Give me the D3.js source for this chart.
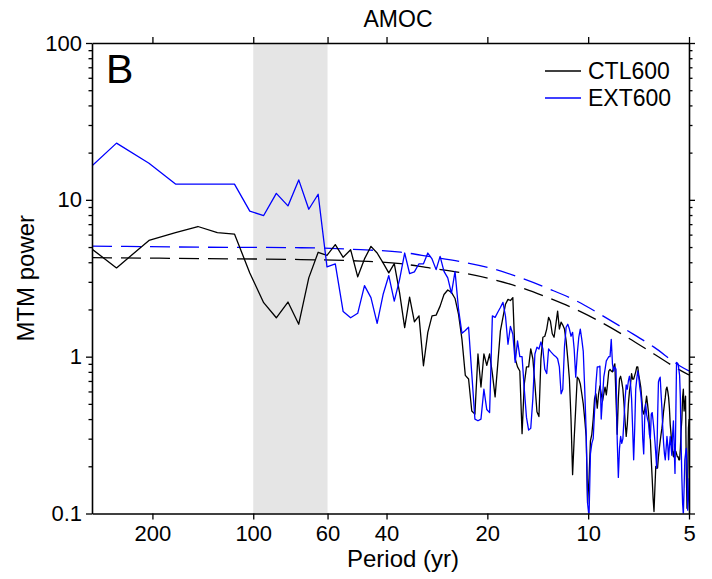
<!DOCTYPE html>
<html>
<head>
<meta charset="utf-8">
<script src="https://cdn.jsdelivr.net/npm/d3@7"></script>
<style>
    body { margin: 0; background: #fff; }
    svg text { font-family: "Liberation Sans", Arial, Helvetica, sans-serif; fill: #000; }
</style>
</head>
<body>
<div id="spectrum-area"></div>
<script>

// spectra are on the frequency grid k/1024 (cycles per yr), first bin k = 3
let freqStep = 1 / 1024;
let firstBin = 3;

// MTM power, CTL600 (black)
let ctl600 = [
    5.9, 3.68, 5.51, 6.17, 6.76, 6.17, 6.05, 3.42, 2.21, 1.77,
    2.23, 1.61, 3.18, 4.63, 4.43, 5.18, 4.30, 4.81, 3.23, 4.20,
    5.05, 4.58, 3.96, 3.42, 3.92, 2.56, 1.53, 2.40, 1.67, 1.82,
    0.875, 1.43, 1.82, 1.84, 2.10, 2.49, 2.66, 2.57, 2.35, 1.86,
    1.29, 0.76, 0.72, 0.45, 0.43, 1.04, 0.64, 1.04, 0.88, 1.04,
    0.78, 0.554, 0.90, 1.46, 1.78, 2.16, 2.32, 2.28, 2.38, 0.97,
    0.86, 0.81, 0.323, 0.67, 0.86, 0.86, 1.12, 0.97, 0.67, 0.445,
    0.415, 0.97, 1.33, 1.35, 1.50, 1.78, 1.68, 1.40, 1.33, 1.61,
    1.95, 1.50, 1.66, 1.59, 1.50, 1.26, 0.97, 0.72, 0.40, 0.177,
    0.30, 0.47, 0.74, 0.72, 0.67, 0.58, 0.50, 0.40, 0.31, 0.116,
    0.168, 0.29, 0.32, 0.40, 0.54, 0.58, 0.47, 0.58, 0.65, 0.58,
    0.52, 0.58, 0.64, 0.57, 0.67, 0.81, 0.83, 0.81, 0.80, 0.86,
    0.90, 0.54, 0.32, 0.54, 0.72, 0.75, 0.69, 0.62, 0.50, 0.385,
    0.31, 0.37, 0.50, 0.60, 0.67, 0.78, 0.72, 0.72, 0.76, 0.80,
    0.86, 0.86, 0.76, 0.70, 0.64, 0.54, 0.45, 0.43, 0.46, 0.50,
    0.56, 0.50, 0.44, 0.36, 0.30, 0.22, 0.168, 0.125, 0.103, 0.145,
    0.20, 0.195, 0.195, 0.23, 0.26, 0.29, 0.32, 0.35, 0.39, 0.45,
    0.50, 0.55, 0.62, 0.64, 0.60, 0.55, 0.47, 0.37, 0.32, 0.28,
    0.25, 0.23, 0.25, 0.25, 0.25, 0.24, 0.23, 0.23, 0.22, 0.22,
    0.26, 0.34, 0.40, 0.55, 0.62, 0.45, 0.50, 0.56, 0.19, 0.108,
    0.17, 0.35, 0.40
];

// MTM power, EXT600 (blue)
let ext600 = [
    13, 23.0, 17.1, 12.6, 12.6, 12.6, 12.6, 8.47, 7.94, 11.0,
    9.15, 13.4, 8.71, 10.85, 3.74, 3.90, 1.94, 1.77, 1.89, 2.84,
    2.38, 1.63, 2.49, 3.29, 2.26, 3.10, 4.58, 3.39, 3.47, 3.91,
    3.91, 4.58, 4.20, 3.59, 4.36, 3.50, 3.18, 2.53, 3.5, 2.0,
    1.41, 1.47, 1.54, 0.78, 0.40, 0.39, 0.40, 0.62, 0.46, 0.44,
    1.82, 1.78, 1.92, 2.06, 2.22, 1.81, 1.20, 1.56, 1.39, 0.92,
    1.26, 1.0, 1.0, 0.62, 0.41, 0.34, 0.35, 0.54, 1.04, 1.15,
    1.12, 1.24, 1.12, 0.83, 0.78, 1.12, 1.08, 1.05, 1.02, 1.0,
    0.97, 0.86, 0.58, 0.62, 1.15, 1.54, 1.61, 1.50, 1.35, 1.43,
    1.12, 0.74, 1.04, 1.33, 1.50, 1.29, 1.08, 0.62, 0.33, 0.116,
    0.095, 0.24, 0.28, 0.30, 0.45, 0.67, 0.86, 0.86, 0.87, 0.40,
    0.54, 0.74, 0.83, 0.94, 0.97, 1.0, 1.0, 1.29, 0.90, 0.81,
    0.86, 0.83, 0.30, 0.17, 0.26, 0.31, 0.28, 0.30, 0.40, 0.54,
    0.66, 0.62, 0.70, 0.75, 0.67, 0.54, 0.35, 0.22, 0.35, 0.62,
    0.72, 0.81, 0.74, 0.64, 0.58, 0.49, 0.30, 0.24, 0.40, 0.50,
    0.43, 0.40, 0.38, 0.32, 0.30, 0.43, 0.44, 0.39, 0.34, 0.29,
    0.24, 0.195, 0.40, 0.69, 0.72, 0.74, 0.58, 0.47, 0.35, 0.28,
    0.24, 0.22, 0.26, 0.31, 0.27, 0.22, 0.27, 0.31, 0.27, 0.235,
    0.32, 0.39, 0.26, 0.18, 0.40, 0.92, 0.91, 0.90, 0.83, 0.76,
    0.54, 0.28, 0.168, 0.116, 0.098, 0.145, 0.22, 0.24, 0.26, 0.19,
    0.105, 0.125, 0.168
];

// red noise significance curves (dashed), read at these periods
let noisePeriods = [303, 143, 72, 47.8, 36.3, 29.6, 24.1, 19.3, 15.7, 13.0, 10.5, 9.2, 7.65, 6.36, 5.32, 5.0];
let ctlNoise = [4.28, 4.22, 4.16, 4.07, 3.92, 3.67, 3.44, 3.11, 2.74, 2.35, 1.93, 1.67, 1.33, 1.04, 0.82, 0.764];
let extNoise = [5.07, 4.99, 4.95, 4.81, 4.64, 4.34, 4.04, 3.64, 3.15, 2.69, 2.19, 1.86, 1.47, 1.15, 0.872, 0.81];

// shaded band (yr)
let bandPeriods = [100, 60];

let periodTicks = [200, 100, 60, 40, 20, 10, 5];
let powerTicks = [0.1, 1, 10, 100];

let seriesNames = ["CTL600", "EXT600"];
let seriesColors = ["#000000", "#0000ff"];


class SpectrumVis {

    constructor(parentElement) {
        this.parentElement = parentElement;
        this.initVis();
    }

    initVis() {
        let vis = this;

        vis.margin = {top: 43, right: 23, bottom: 65.5, left: 92};
        vis.width = 712 - vis.margin.left - vis.margin.right;
        vis.height = 579 - vis.margin.top - vis.margin.bottom;

        vis.svg = d3.select("#" + vis.parentElement).append("svg")
            .attr("width", 712)
            .attr("height", 579);

        vis.g = vis.svg.append("g")
            .attr("transform", "translate(" + vis.margin.left + "," + vis.margin.top + ")");

        vis.x = d3.scaleLog().domain([303, 5]).range([0, vis.width]);
        vis.y = d3.scaleLog().domain([0.1, 100]).range([vis.height, 0]);

        vis.g.append("clipPath").attr("id", "plot-clip")
            .append("rect")
            .attr("width", vis.width)
            .attr("height", vis.height);

        vis.wrangleData();
    }

    wrangleData() {
        let vis = this;

        let toPoints = values => values.map((v, i) => ({
            period: 1 / ((firstBin + i) * freqStep),
            power: v
        }));

        vis.spectra = [toPoints(ctl600), toPoints(ext600)];
        vis.noise = [ctlNoise, extNoise].map(vals =>
            vals.map((v, i) => ({period: noisePeriods[i], power: v})));

        vis.updateVis();
    }

    updateVis() {
        let vis = this;

        // grey band
        vis.g.append("rect")
            .attr("x", vis.x(bandPeriods[0]))
            .attr("width", vis.x(bandPeriods[1]) - vis.x(bandPeriods[0]))
            .attr("y", 0)
            .attr("height", vis.height)
            .attr("fill", "#e5e5e5");

        let plot = vis.g.append("g").attr("clip-path", "url(#plot-clip)");

        let line = d3.line()
            .x(d => vis.x(d.period))
            .y(d => vis.y(d.power));

        let smooth = d3.line()
            .x(d => vis.x(d.period))
            .y(d => vis.y(d.power))
            .curve(d3.curveMonotoneX);

        // dashed noise curves
        plot.selectAll(".noise")
            .data(vis.noise)
            .enter()
            .append("path")
            .attr("class", "noise")
            .attr("d", smooth)
            .attr("fill", "none")
            .attr("stroke", (d, i) => seriesColors[i])
            .attr("stroke-width", 1.3)
            .attr("stroke-dasharray", "20,9");

        // spectra
        plot.selectAll(".spectrum")
            .data(vis.spectra)
            .enter()
            .append("path")
            .attr("class", "spectrum")
            .attr("d", line)
            .attr("fill", "none")
            .attr("stroke", (d, i) => seriesColors[i])
            .attr("stroke-width", 1.3)
            .attr("stroke-linejoin", "round");

        // axes
        let minors = [];
        [0.1, 1, 10].forEach(dec => {
            for (let m = 2; m <= 9; m++) minors.push(dec * m);
        });

        let fmtPower = d => d < 1 ? "0.1" : d3.format("d")(d);

        let styleAxis = sel => {
            sel.selectAll("path.domain").attr("stroke-width", 1.6);
            sel.selectAll(".tick line").attr("stroke-width", 1.3);
            sel.selectAll("text")
                .style("font-size", "22px")
                .style("font-family", "\"Liberation Sans\", Arial, sans-serif")
                .attr("fill", "#000");
        };

        vis.g.append("g")
            .attr("transform", "translate(0," + vis.height + ")")
            .call(d3.axisBottom(vis.x).tickValues(periodTicks)
                .tickFormat(d3.format("d")).tickSizeInner(6).tickSizeOuter(0).tickPadding(6))
            .call(styleAxis);

        vis.g.append("g")
            .call(d3.axisTop(vis.x).tickValues(periodTicks)
                .tickFormat("").tickSizeInner(6).tickSizeOuter(0))
            .call(styleAxis);

        vis.g.append("g")
            .call(d3.axisLeft(vis.y).tickValues(powerTicks)
                .tickFormat(fmtPower).tickSizeInner(6).tickSizeOuter(0).tickPadding(4))
            .call(styleAxis);

        vis.g.append("g")
            .call(d3.axisLeft(vis.y).tickValues(minors).tickFormat("").tickSize(3.5))
            .call(styleAxis)
            .select(".domain").remove();

        vis.g.append("g")
            .attr("transform", "translate(" + vis.width + ",0)")
            .call(d3.axisRight(vis.y).tickValues(powerTicks)
                .tickFormat("").tickSizeInner(6).tickSizeOuter(0))
            .call(styleAxis);

        vis.g.append("g")
            .attr("transform", "translate(" + vis.width + ",0)")
            .call(d3.axisRight(vis.y).tickValues(minors).tickFormat("").tickSize(3.5))
            .call(styleAxis)
            .select(".domain").remove();

        // titles
        vis.svg.append("text")
            .attr("x", 398)
            .attr("y", 27)
            .attr("text-anchor", "middle")
            .style("font-size", "23px")
            .text("AMOC");

        vis.svg.append("text")
            .attr("x", 403)
            .attr("y", 567)
            .attr("text-anchor", "middle")
            .style("font-size", "24px")
            .text("Period (yr)");

        vis.svg.append("text")
            .attr("transform", "translate(34," + (vis.margin.top + vis.height / 2) + ") rotate(-90)")
            .attr("text-anchor", "middle")
            .style("font-size", "24px")
            .text("MTM power");

        vis.svg.append("text")
            .attr("x", 106)
            .attr("y", 83)
            .style("font-size", "41px")
            .text("B");

        // legend
        let legend = vis.svg.selectAll(".legend")
            .data(seriesNames)
            .enter()
            .append("g")
            .attr("class", "legend")
            .attr("transform", (d, i) => "translate(545," + (71 + i * 27) + ")");

        legend.append("line")
            .attr("x1", 0).attr("x2", 36)
            .attr("stroke", (d, i) => seriesColors[i])
            .attr("stroke-width", 1.6);

        legend.append("text")
            .attr("x", 43)
            .attr("y", 8)
            .style("font-size", "23px")
            .text(d => d);
    }
}

let spectrumVis = new SpectrumVis("spectrum-area");

</script>
</body>
</html>
